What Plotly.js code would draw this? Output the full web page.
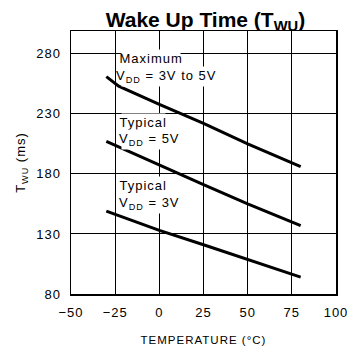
<!DOCTYPE html>
<html><head><meta charset="utf-8">
<script src="https://cdn.plot.ly/plotly-3.0.1.min.js"></script>
<style>
html,body{margin:0;padding:0;background:#fff}
#chart{width:347px;height:350px}
#chart svg text{letter-spacing:1px}
#chart svg .gtitle{letter-spacing:0}
</style>
</head><body><div id="chart"></div>
<script>
const maxTemp = [-30, -23, 0, 25, 50, 80];
const maxTwu = [261, 253, 238, 222, 205, 186];
const typ5Temp = [-30, 0, 25, 50, 80];
const typ5Twu = [207, 187, 171, 155, 137];
const typ3Temp = [-30, 0, 25, 50, 75, 80];
const typ3Twu = [149, 133, 121, 109, 97, 94];
const xTicks = [-50, -25, 0, 25, 50, 75, 100];
const yTicks = [80, 130, 180, 230, 280];

const sans = "Liberation Sans, Arial, sans-serif";
const line = {color: "#000", width: 3};
const data = [
  {x: maxTemp, y: maxTwu, mode: "lines", line: line},
  {x: typ5Temp, y: typ5Twu, mode: "lines", line: line},
  {x: typ3Temp, y: typ3Twu, mode: "lines", line: line}
].map(t => Object.assign(t, {hoverinfo: "skip", showlegend: false}));

function ann(x, y, text) {
  return {x: x, y: y, xref: "x", yref: "y", text: text, showarrow: false,
    xanchor: "left", yanchor: "middle", bgcolor: "#fff", borderpad: 1,
    font: {family: sans, size: 13, color: "#000"}};
}
const annotations = [
  ann(-21.5, 276, "Maximum"),
  ann(-21.5, 261, "V<sub>DD</sub> = 3V to 5V"),
  ann(-21.5, 223, "Typical"),
  ann(-21.5, 209, "V<sub>DD</sub> = 5V"),
  ann(-21.5, 170, "Typical"),
  ann(-21.5, 155, "V<sub>DD</sub> = 3V")
];

const tickFont = {family: sans, size: 13, color: "#000"};
const layout = {
  width: 347, height: 350,
  margin: {l: 71, r: 11, t: 31, b: 56},
  paper_bgcolor: "#fff", plot_bgcolor: "#fff",
  title: {text: "<b>Wake Up Time (T<sub>WU</sub>)</b>", x: 0.592, xanchor: "center",
    yref: "container", y: 0.945, yanchor: "middle",
    font: {family: sans, size: 21, color: "#000"}},
  xaxis: {range: [-50, 100], tickvals: xTicks, showgrid: true, gridcolor: "#000", gridwidth: 1,
    zeroline: false, showline: true, linecolor: "#000", linewidth: 1.5, mirror: true,
    ticks: "", tickfont: tickFont, ticklabeloverflow: "allow", ticklabelstandoff: 6,
    title: {text: "TEMPERATURE (°C)", font: {family: sans, size: 11.5, color: "#000"}, standoff: 17}},
  yaxis: {range: [80, 299], tickvals: yTicks, showgrid: true, gridcolor: "#000", gridwidth: 1,
    zeroline: false, showline: true, linecolor: "#000", linewidth: 1.5, mirror: true,
    ticks: "", tickfont: tickFont, ticklabelstandoff: 6,
    title: {text: "T<sub>WU</sub> (ms)", font: {family: sans, size: 13, color: "#000"}, standoff: 10}},
  annotations: annotations
};
Plotly.newPlot("chart", data, layout, {staticPlot: true, displayModeBar: false});
</script></body></html>
